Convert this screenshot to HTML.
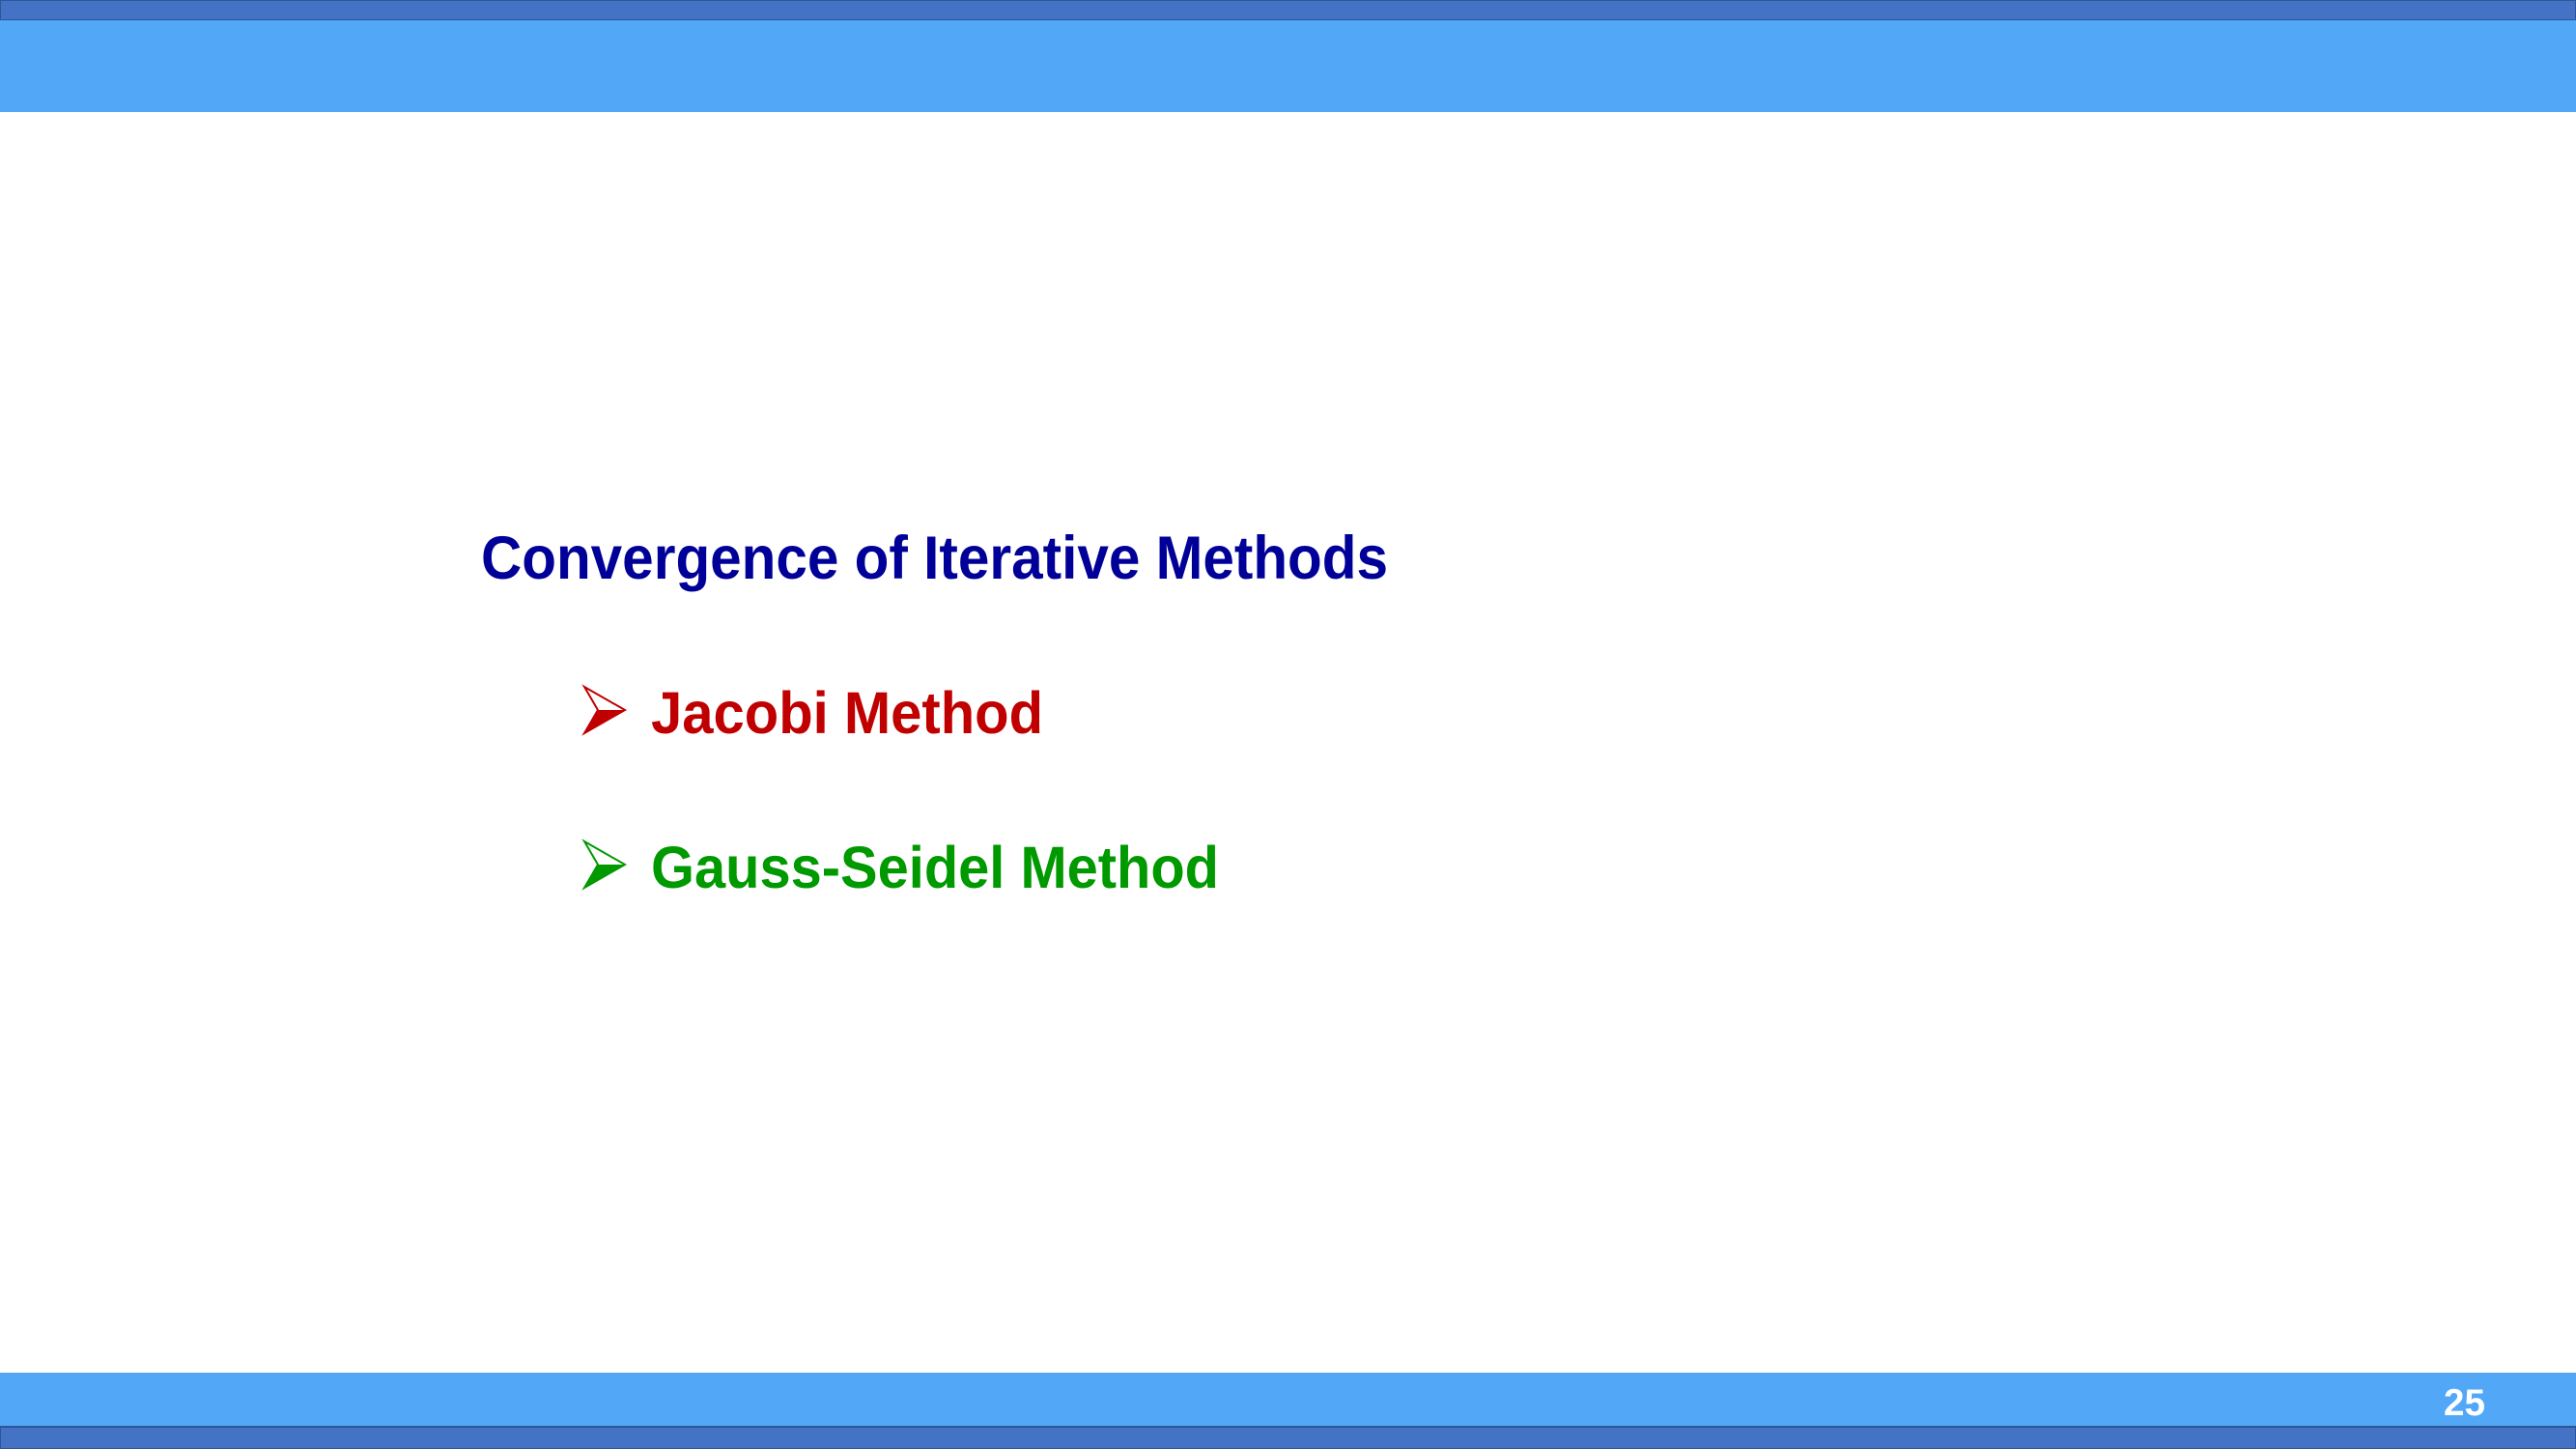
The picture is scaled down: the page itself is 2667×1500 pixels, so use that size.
<!DOCTYPE html>
<html><head><meta charset="utf-8"><style>
html,body{margin:0;padding:0;background:#fff;}
body{width:2667px;height:1500px;position:relative;overflow:hidden;}
svg{position:absolute;left:0;top:0;}
</style></head><body>
<svg width="2667" height="1500" viewBox="0 0 2667 1500" xmlns="http://www.w3.org/2000/svg">
<rect x="0" y="0" width="2667" height="1500" fill="#ffffff"/>
<rect x="0" y="0" width="2667" height="21" fill="#4472C4" stroke="#2F5597" stroke-width="2"/>
<rect x="0" y="21" width="2667" height="95" fill="#52A8F7"/>
<rect x="0" y="1421" width="2667" height="56" fill="#52A8F7"/>
<rect x="0" y="1477" width="2667" height="23" fill="#4472C4" stroke="#2F5597" stroke-width="2"/>
<text x="2530" y="1465" font-family="Liberation Sans, sans-serif" font-weight="bold" font-size="39" fill="#ffffff" textLength="43" lengthAdjust="spacingAndGlyphs">25</text>
<text x="498" y="599" font-family="Liberation Sans, sans-serif" font-weight="bold" font-size="63" fill="#000099" textLength="939" lengthAdjust="spacingAndGlyphs">Convergence of Iterative Methods</text>
<g transform="translate(605,711)">
<polygon points="0,0 42,24 0,48 14,24" fill="none" stroke="#C00000" stroke-width="2"/>
<polygon points="14,24 42,24 0,48" fill="#C00000"/>
</g>
<text x="674" y="759" font-family="Liberation Sans, sans-serif" font-weight="bold" font-size="61" fill="#C00000" textLength="406" lengthAdjust="spacingAndGlyphs">Jacobi Method</text>
<g transform="translate(605,871)">
<polygon points="0,0 42,24 0,48 14,24" fill="none" stroke="#009900" stroke-width="2"/>
<polygon points="14,24 42,24 0,48" fill="#009900"/>
</g>
<text x="674" y="919" font-family="Liberation Sans, sans-serif" font-weight="bold" font-size="61" fill="#009900" textLength="588" lengthAdjust="spacingAndGlyphs">Gauss-Seidel Method</text>
</svg>
</body></html>
